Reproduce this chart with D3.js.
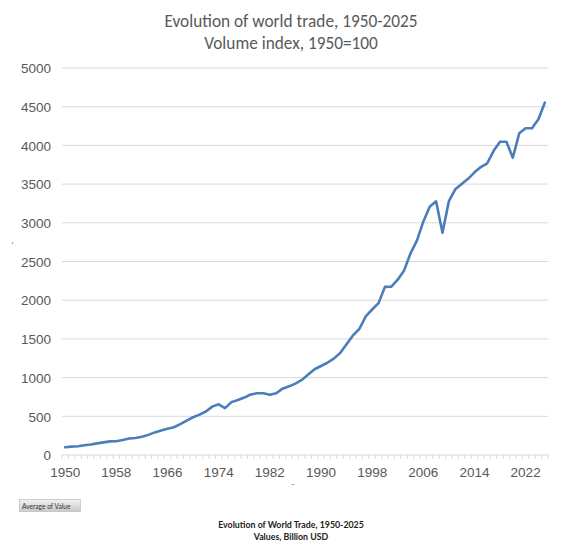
<!DOCTYPE html>
<html>
<head>
<meta charset="utf-8">
<script src="https://cdn.jsdelivr.net/npm/d3@7"></script>
<style>
  html, body { margin: 0; padding: 0; background: #fff; }
  svg { display: block; font-family: Calibri, Carlito, Lato, sans-serif; }
  .grid line { stroke: #d9d9d9; stroke-width: 1; }
  .ylab, .xlab { fill: #595959; font-size: 13.5px; }
  .title { fill: #595959; font-size: 17.3px; }
  .foot { fill: #222; font-size: 8.8px; font-weight: bold; font-family: Lato, sans-serif; }
</style>
</head>
<body>
<svg id="chart" width="580" height="549"></svg>
<script>
// categories: one per year
const years = d3.range(1950, 2026);

// world trade volume index, 1950 = 100
const volumeIndex = [
  100, 108, 113, 125, 135, 150, 163, 176, 178, 193,   // 1950-59
  213, 220, 235, 260, 292, 315, 338, 358, 398, 445,   // 1960-69
  488, 522, 562, 625, 655, 605, 683, 710, 742, 782,   // 1970-79
  797, 797, 778, 797, 857, 887, 922, 970, 1040, 1108, // 1980-89
  1150, 1192, 1245, 1318, 1430, 1545, 1628, 1792, 1880, 1962, // 1990-99
  2172, 2175, 2265, 2385, 2605, 2770, 3015, 3208, 3278, 2872, // 2000-09
  3280, 3433, 3501, 3568, 3652, 3720, 3769, 3930, 4048, 4048, // 2010-19
  3840, 4156, 4221, 4221, 4337, 4552                          // 2020-25
];

const yTicks = [0, 500, 1000, 1500, 2000, 2500, 3000, 3500, 4000, 4500, 5000];
const xTickYears = [1950, 1958, 1966, 1974, 1982, 1990, 1998, 2006, 2014, 2022];

const titleLines = ['Evolution of world trade, 1950-2025', 'Volume index, 1950=100'];
const footLines = ['Evolution of World Trade, 1950-2025', 'Values, Billion USD'];

const svg = d3.select('#chart');
const plot = { left: 62, right: 548, top: 68, bottom: 455 };

const x = d3.scaleBand().domain(years).range([plot.left, plot.right]).padding(0);
const xc = (yr) => x(yr) + x.bandwidth() / 2;
const y = d3.scaleLinear().domain([0, 5000]).range([plot.bottom, plot.top]);

// Titles
svg.selectAll('text.title').data(titleLines).enter().append('text')
  .attr('class', 'title')
  .attr('x', 291).attr('y', (d, i) => 27 + i * 22)
  .attr('text-anchor', 'middle')
  .text((d) => d);

// Gridlines
svg.append('g').attr('class', 'grid')
  .selectAll('line').data(yTicks.filter((t) => t > 0)).enter().append('line')
  .attr('x1', plot.left).attr('x2', plot.right)
  .attr('y1', (d) => y(d)).attr('y2', (d) => y(d));

// Y axis labels (no axis line)
const yAxis = svg.append('g')
  .attr('transform', `translate(${plot.left - 11},0)`)
  .call(d3.axisLeft(y).tickValues(yTicks).tickSize(0).tickPadding(0).tickFormat(d3.format('d')));
yAxis.select('.domain').remove();
yAxis.selectAll('text').attr('class', 'ylab').attr('font-family', null).attr('font-size', null).attr('dy', '0.35em');

// X axis baseline + minor ticks at category boundaries
svg.append('line')
  .attr('x1', plot.left).attr('x2', plot.right)
  .attr('y1', y(0)).attr('y2', y(0))
  .attr('stroke', '#d9d9d9').attr('stroke-width', 1);
svg.append('g')
  .selectAll('line').data(years.concat([null])).enter().append('line')
  .attr('x1', (d) => d == null ? plot.right : x(d))
  .attr('x2', (d) => d == null ? plot.right : x(d))
  .attr('y1', y(0)).attr('y2', y(0) + 4)
  .attr('stroke', '#d9d9d9').attr('stroke-width', 1);

// band axis already centres labels on each category
const xAxis = svg.append('g')
  .attr('transform', `translate(0,${plot.bottom})`)
  .call(d3.axisBottom(x).tickValues(xTickYears).tickSize(0).tickPadding(12));
xAxis.select('.domain').remove();
xAxis.selectAll('text').attr('class', 'xlab').attr('font-family', null).attr('font-size', null);

// empty axis titles
svg.append('text').attr('x', 293).attr('y', 487).attr('text-anchor', 'middle')
  .attr('fill', '#595959').attr('font-size', 9).text('-');
svg.append('text').attr('transform', 'translate(15,243) rotate(-90)').attr('text-anchor', 'middle')
  .attr('fill', '#595959').attr('font-size', 9).text('-');

// Line
const line = d3.line()
  .x((d, i) => xc(years[i]))
  .y((d) => y(d));
svg.append('path')
  .datum(volumeIndex)
  .attr('fill', 'none')
  .attr('stroke', '#4a7ebb')
  .attr('stroke-width', 2.6)
  .attr('stroke-linejoin', 'round')
  .attr('stroke-linecap', 'round')
  .attr('d', line);

// "Average of Value" field button
const defs = svg.append('defs');
const grad = defs.append('linearGradient').attr('id', 'btn').attr('x1', 0).attr('x2', 0).attr('y1', 0).attr('y2', 1);
grad.append('stop').attr('offset', '0%').attr('stop-color', '#f2f2f2');
grad.append('stop').attr('offset', '100%').attr('stop-color', '#c9c9c9');
svg.append('rect')
  .attr('x', 19.5).attr('y', 499.5).attr('width', 61).attr('height', 12)
  .attr('fill', 'url(#btn)').attr('stroke', '#b5b5b5').attr('stroke-width', 0.6);
svg.append('text')
  .attr('x', 22).attr('y', 508.5)
  .attr('fill', '#333').attr('font-size', 6.6).attr('font-family', 'Lato, sans-serif')
  .text('Average of Value');

// Footer
svg.selectAll('text.foot').data(footLines).enter().append('text')
  .attr('class', 'foot')
  .attr('x', 291).attr('y', (d, i) => 528 + i * 12)
  .attr('text-anchor', 'middle')
  .text((d) => d);
</script>
</body>
</html>
